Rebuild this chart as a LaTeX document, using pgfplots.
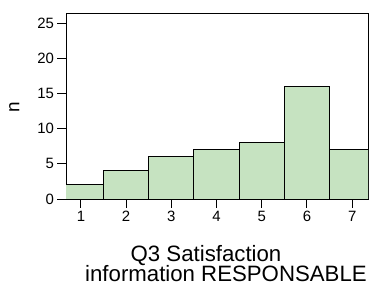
\documentclass[border=0pt]{standalone}
\usepackage{fontspec}
\setmainfont{Liberation Sans}
\usepackage{pgfplots}
\pgfplotsset{compat=1.18}
\definecolor{barfill}{RGB}{198,227,193}
\begin{document}
\lineskiplimit=-20pt
\begin{tikzpicture}
\begin{axis}[
  name=ax,
  scale only axis,
  width=302bp, height=185bp,
  xmin=0.67, xmax=7.35,
  ymin=0, ymax=26.35,
  xtick={1,...,7},
  ytick={0,5,...,25},
  xtick pos=left, ytick pos=left,
  tick align=outside,
  major tick length=8.5bp,
  tick style={black, line width=1pt},
  axis line style={black, line width=1pt},
  /pgf/number format/assume math mode=true,
  tick label style={font=\fontsize{15}{18}\selectfont},
  ylabel={n},
  ylabel style={font=\fontsize{19}{19}\selectfont, at={(axis description cs:0,0.5)}, anchor=center, yshift=51.7bp, xshift=-1bp, inner sep=0pt},
  xlabel={\hspace*{45.5bp}Q3 Satisfaction\\information RESPONSABLE},
  xlabel style={font=\fontsize{22.3}{20}\selectfont, align=left, at={(axis description cs:0,0)}, anchor=north west, inner sep=0pt, xshift=19bp, yshift=-46.5bp},
  ybar, bar width=1, bar shift=0pt,
]
\addplot[fill=barfill, draw=black, line width=1pt] coordinates {
(1,2) (2,4) (3,6) (4,7) (5,8) (6,16) (7,7)
};
\end{axis}
\pgfresetboundingbox
\path[use as bounding box] ([shift={(-66bp,-85bp)}]ax.south west) rectangle ++(370bp,284bp);
\end{tikzpicture}
\end{document}
